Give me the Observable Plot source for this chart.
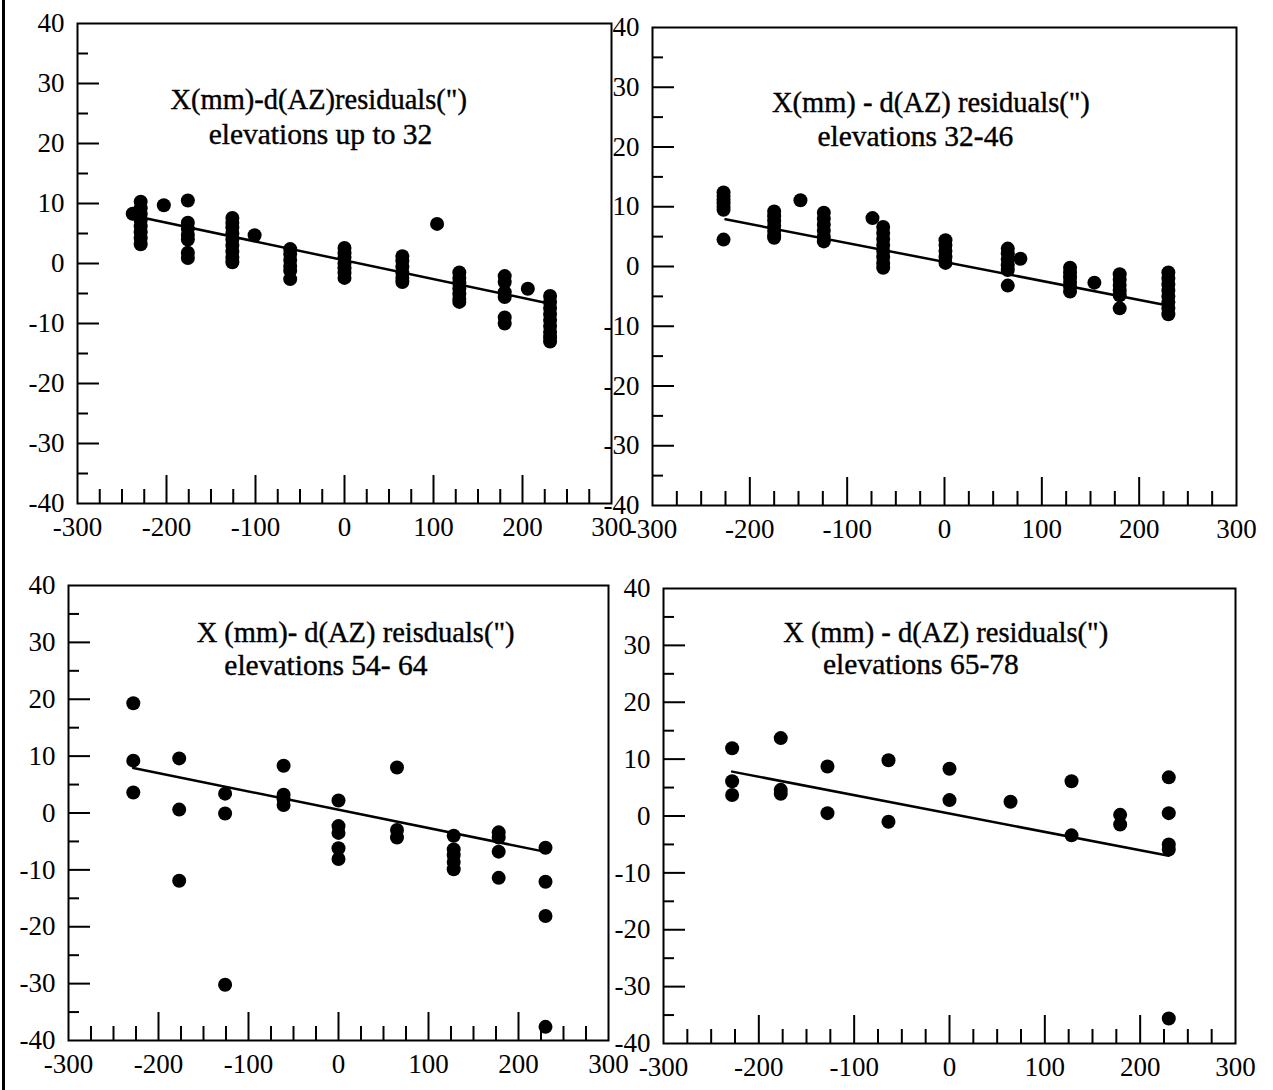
<!DOCTYPE html>
<html><head><meta charset="utf-8">
<script src="https://cdn.jsdelivr.net/npm/d3@7"></script>
<script src="https://cdn.jsdelivr.net/npm/@observablehq/plot@0.6"></script>
<style>
body{margin:0;background:#fff;}
#page{position:relative;width:1273px;height:1090px;overflow:hidden;background:#fff;}
.panel{position:absolute;}
.panel svg{overflow:visible;}
#edge{position:absolute;left:2px;top:0;width:3px;height:1090px;background:#000;}
</style></head><body><div id="page"><div id="edge"></div></div>
<script>
// ---- shared axis ticks ----
const xLabels = [-300, -200, -100, 0, 100, 200, 300];
const xMajor = [-200, -100, 0, 100, 200];
const xMinor = [-275, -250, -225, -175, -150, -125, -75, -50, -25, 25, 50, 75, 125, 150, 175, 225, 250, 275];
const yLabels = [-40, -30, -20, -10, 0, 10, 20, 30, 40];
const yMajor = [-30, -20, -10, 0, 10, 20, 30];
const yMinor = [-35, -25, -15, -5, 5, 15, 25, 35];

// ---- panel 1: elevations up to 32 ----
const p1ColX = [-229, -176, -126, -61, 0, 65, 129, 180, 231];
const p1Cols = [
  [10.3, 9.2, 8.2, 7.2, 6.2, 5.2, 4.2, 3.2],
  [10.5, 6.8, 5.8, 4.8, 4.0, 1.8, 0.9],
  [7.6, 6.8, 6.0, 5.0, 4.0, 3.0, 2.0, 1.0, 0.2],
  [2.4, 1.6, 0.6, -0.4, -1.2, -2.6],
  [2.6, 1.8, 1.0, 0.0, -0.8, -1.6, -2.4],
  [1.2, 0.4, -0.6, -1.6, -2.4, -3.1],
  [-1.5, -2.4, -3.3, -4.2, -5.1, -5.9, -6.4],
  [-2.1, -3.1, -4.8, -5.6, -9.0, -10.0],
  [-5.4, -6.4, -7.4, -8.4, -9.4, -10.4, -11.4, -12.3, -13.0]
];
const p1ExtraX = [-238, -203, -101, 104, 206];
const p1ExtraY = [8.3, 9.7, 4.7, 6.6, -4.2];
const p1LineX = [-229, 231];
const p1LineY = [7.7, -6.7];

// ---- panel 2: elevations 32-46 ----
const p2ColX = [-227, -175, -124, -63, 1, 65, 129, 180, 230];
const p2Cols = [
  [12.4, 11.8, 11.2, 10.6, 10.0, 9.5, 4.5],
  [9.2, 8.4, 7.6, 6.8, 6.0, 5.2, 4.8],
  [9.0, 8.0, 7.0, 6.0, 5.0, 4.2],
  [6.6, 5.6, 4.6, 3.6, 2.6, 1.6, 0.6, -0.2],
  [4.4, 3.6, 2.6, 1.6, 0.6],
  [3.0, 2.2, 1.2, 0.2, -0.6, -3.2],
  [-0.2, -1.0, -1.8, -2.6, -3.4, -4.2],
  [-1.3, -2.2, -3.1, -4.0, -4.8, -7.0],
  [-1.0, -2.0, -3.0, -4.0, -5.0, -6.0, -7.0, -8.0]
];
const p2ExtraX = [-148, -74, 78, 154];
const p2ExtraY = [11.1, 8.1, 1.3, -2.7];
const p2LineX = [-225, 232];
const p2LineY = [7.9, -6.6];

// ---- panel 3: elevations 54-64 ----
const p3ColX = [-228, -177, -126, -61, 0, 65, 128, 178, 230];
const p3Cols = [
  [19.3, 9.2, 3.6],
  [9.6, 0.6, -11.9],
  [3.4, -0.1, -30.2],
  [8.3, 3.2, 2.4, 1.4],
  [2.2, -2.3, -3.5, -6.2, -8.1],
  [8.0, -3.0, -4.3],
  [-4.0, -6.4, -7.4, -8.6, -9.9],
  [-3.4, -4.3, -6.8, -11.4],
  [-6.1, -12.1, -18.1, -37.6]
];
const p3ExtraX = [];
const p3ExtraY = [];
const p3LineX = [-228, 226];
const p3LineY = [7.9, -6.7];

// ---- panel 4: elevations 65-78 ----
const p4ColX = [-228, -177, -128, -64, 0, 64, 128, 179, 230];
const p4Cols = [
  [11.9, 6.1, 3.7],
  [13.7, 4.6, 3.9],
  [8.7, 0.5],
  [9.8, -1.0],
  [8.3, 2.8],
  [2.5],
  [6.1, -3.4],
  [0.2, -1.5],
  [6.8, 0.5, -5.0, -5.9, -35.6]
];
const p4ExtraX = [];
const p4ExtraY = [];
const p4LineX = [-228, 230];
const p4LineY = [7.8, -7.0];

const titles1 = ['X(mm)-d(AZ)residuals(")', 'X(mm) - d(AZ) residuals(")', 'X (mm)- d(AZ) reisduals(")', 'X (mm) - d(AZ) residuals(")'];
const titles2 = ['elevations up to 32', 'elevations 32-46', 'elevations 54- 64', 'elevations 65-78'];

const FONT = "'Liberation Serif', 'Times New Roman', Times, serif";

function makePanel(cfg) {
  const pts = [];
  cfg.colX.forEach((x, i) => cfg.cols[i].forEach(y => pts.push({x, y})));
  cfg.exX.forEach((x, i) => pts.push({x, y: cfg.exY[i]}));
  const line = cfg.lineX.map((x, i) => ({x, y: cfg.lineY[i]}));
  const innerW = cfg.width - cfg.mL - cfg.mR;
  const innerH = cfg.height - cfg.mT - cfg.mB;
  const fmt = d => String(d);
  const svg = Plot.plot({
    width: cfg.width, height: cfg.height,
    marginLeft: cfg.mL, marginRight: cfg.mR, marginTop: cfg.mT, marginBottom: cfg.mB,
    style: {fontFamily: FONT, fontSize: "27px", background: "transparent", color: "#000", overflow: "visible"},
    x: {domain: [-300, 300], label: null},
    y: {domain: [-40, 40], label: null},
    marks: [
      Plot.tickX(xMajor, {x: d => d, insetTop: innerH - 28, stroke: "#000", strokeWidth: 2}),
      Plot.tickX(xMinor, {x: d => d, insetTop: innerH - 14, stroke: "#000", strokeWidth: 2}),
      Plot.tickY(yMajor, {y: d => d, insetRight: innerW - 22, stroke: "#000", strokeWidth: 2}),
      Plot.tickY(yMinor, {y: d => d, insetRight: innerW - 11, stroke: "#000", strokeWidth: 2}),
      Plot.frame({stroke: "#000", strokeWidth: 2}),
      Plot.axisX({ticks: xLabels, tickSize: 0, tickPadding: 13, tickFormat: fmt, fontSize: 27, fill: "#000", stroke: "#000", strokeWidth: 0.6, label: null}),
      Plot.axisY({ticks: yLabels, tickSize: 0, tickPadding: 13, tickFormat: fmt, fontSize: 27, fill: "#000", stroke: "#000", strokeWidth: 0.6, label: null}),
      Plot.line(line, {x: "x", y: "y", stroke: "#000", strokeWidth: 2.5}),
      Plot.dot(pts, {x: "x", y: "y", r: 7, fill: "#000", stroke: "none"}),
      Plot.text([cfg.title1], {x: cfg.t1[0], y: cfg.t1[1], text: d => d, fontSize: 28.5, fill: "#000", stroke: "#000", strokeWidth: 0.4}),
      Plot.text([cfg.title2], {x: cfg.t2[0], y: cfg.t2[1], text: d => d, fontSize: 29.5, fill: "#000", stroke: "#000", strokeWidth: 0.4})
    ]
  });
  const div = document.createElement("div");
  div.className = "panel";
  div.style.left = cfg.left + "px";
  div.style.top = cfg.top + "px";
  div.appendChild(svg);
  document.getElementById("page").appendChild(div);
}

makePanel({left: 0, top: 0, width: 640, height: 560, mL: 77, mR: 29, mT: 23, mB: 57,
  colX: p1ColX, cols: p1Cols, exX: p1ExtraX, exY: p1ExtraY, lineX: p1LineX, lineY: p1LineY,
  title1: titles1[0], title2: titles2[0], t1: [-29, 27.2], t2: [-27, 21.5]});
makePanel({left: 590, top: 0, width: 683, height: 560, mL: 62, mR: 37, mT: 27, mB: 55,
  colX: p2ColX, cols: p2Cols, exX: p2ExtraX, exY: p2ExtraY, lineX: p2LineX, lineY: p2LineY,
  title1: titles1[1], title2: titles2[1], t1: [-14, 27.4], t2: [-30, 21.8]});
makePanel({left: 0, top: 560, width: 640, height: 530, mL: 68, mR: 32, mT: 25, mB: 50,
  colX: p3ColX, cols: p3Cols, exX: p3ExtraX, exY: p3ExtraY, lineX: p3LineX, lineY: p3LineY,
  title1: titles1[2], title2: titles2[2], t1: [19, 31.7], t2: [-14, 26]});
makePanel({left: 600, top: 560, width: 673, height: 530, mL: 63, mR: 38, mT: 28, mB: 47,
  colX: p4ColX, cols: p4Cols, exX: p4ExtraX, exY: p4ExtraY, lineX: p4LineX, lineY: p4LineY,
  title1: titles1[3], title2: titles2[3], t1: [-4, 32.2], t2: [-30, 26.6]});
</script>
</body></html>
